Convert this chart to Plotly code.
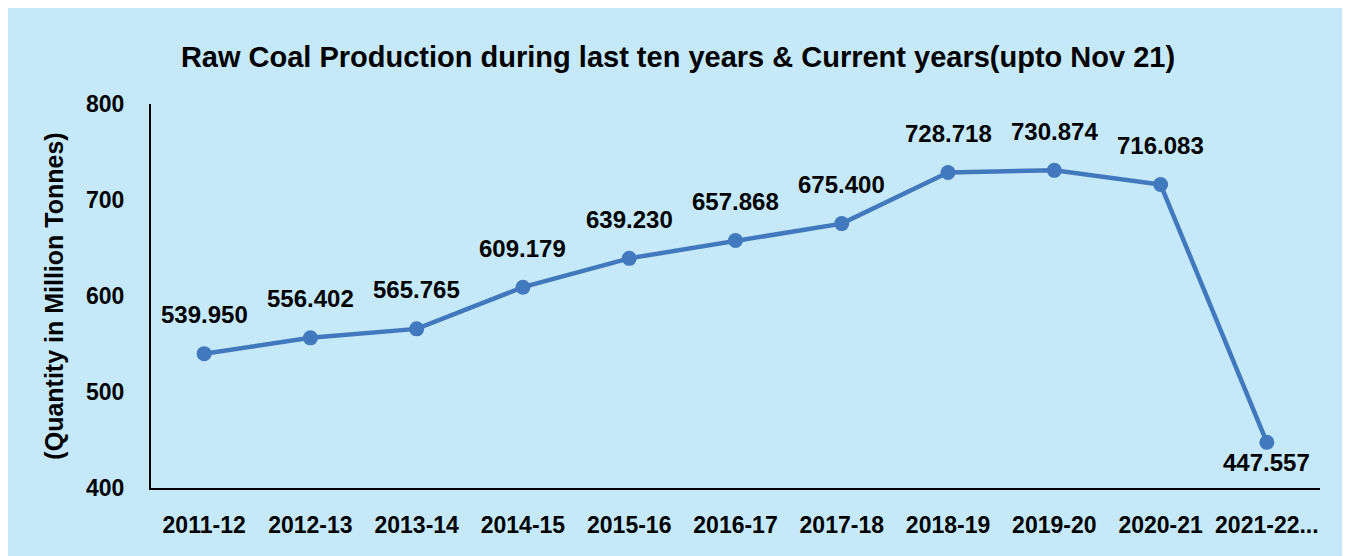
import plotly.graph_objects as go

years = ["2011-12", "2012-13", "2013-14", "2014-15", "2015-16", "2016-17",
         "2017-18", "2018-19", "2019-20", "2020-21", "2021-22..."]
production = [539.950, 556.402, 565.765, 609.179, 639.230, 657.868,
              675.400, 728.718, 730.874, 716.083, 447.557]
labels = ["539.950", "556.402", "565.765", "609.179", "639.230", "657.868",
          "675.400", "728.718", "730.874", "716.083", "447.557"]
y_ticks = [400, 500, 600, 700, 800]

FONT = "Liberation Sans, Arial, sans-serif"
LINE = "#4279BE"
BG = "#C5E9F8"

fig = go.Figure()
fig.add_trace(go.Scatter(
    x=years, y=production, mode="lines+markers",
    line=dict(color=LINE, width=4.5),
    marker=dict(color=LINE, size=15),
    hoverinfo="x+y", showlegend=False,
))

annotations = []
for i, (cat, val, lab) in enumerate(zip(years, production, labels)):
    below = i == len(years) - 1
    annotations.append(dict(
        x=cat, y=val, xref="x", yref="y", text=lab, showarrow=False,
        yshift=-20 if below else 39,
        font=dict(family=FONT, size=24, color="#000000", weight="bold"),
    ))

W, H = 1365, 556
L, T = 143, 96
pw, ph = 1169, 384
R, B = W - L - pw, H - T - ph

fig.update_layout(
    width=W, height=H,
    margin=dict(l=L, r=R, t=T, b=B),
    paper_bgcolor=BG,
    plot_bgcolor="rgba(0,0,0,0)",
    title=dict(
        text="Raw Coal Production during last ten years & Current years(upto Nov 21)",
        x=670 / W, xanchor="center", y=1 - 49 / H, yanchor="middle", yref="container",
        font=dict(family=FONT, size=29, color="#000000", weight="bold"),
    ),
    annotations=annotations,
    xaxis=dict(
        type="category", range=[-0.5, len(years) - 0.5], automargin=False,
        showgrid=False, showline=True, linecolor="#000000", linewidth=2,
        ticks="", ticklabelstandoff=15,
        tickfont=dict(family=FONT, size=23, color="#000000", weight="bold"),
    ),
    yaxis=dict(
        range=[400, 800], tickvals=y_ticks, showgrid=False, zeroline=False,
        automargin=False,
        showline=True, linecolor="#000000", linewidth=2,
        ticks="", ticklabelstandoff=20,
        tickfont=dict(family=FONT, size=23, color="#000000", weight="bold"),
        title=dict(text="(Quantity in Million Tonnes)", standoff=15,
                   font=dict(family=FONT, size=25, color="#000000", weight="bold")),
    ),
)

fig.write_html("out.html")
